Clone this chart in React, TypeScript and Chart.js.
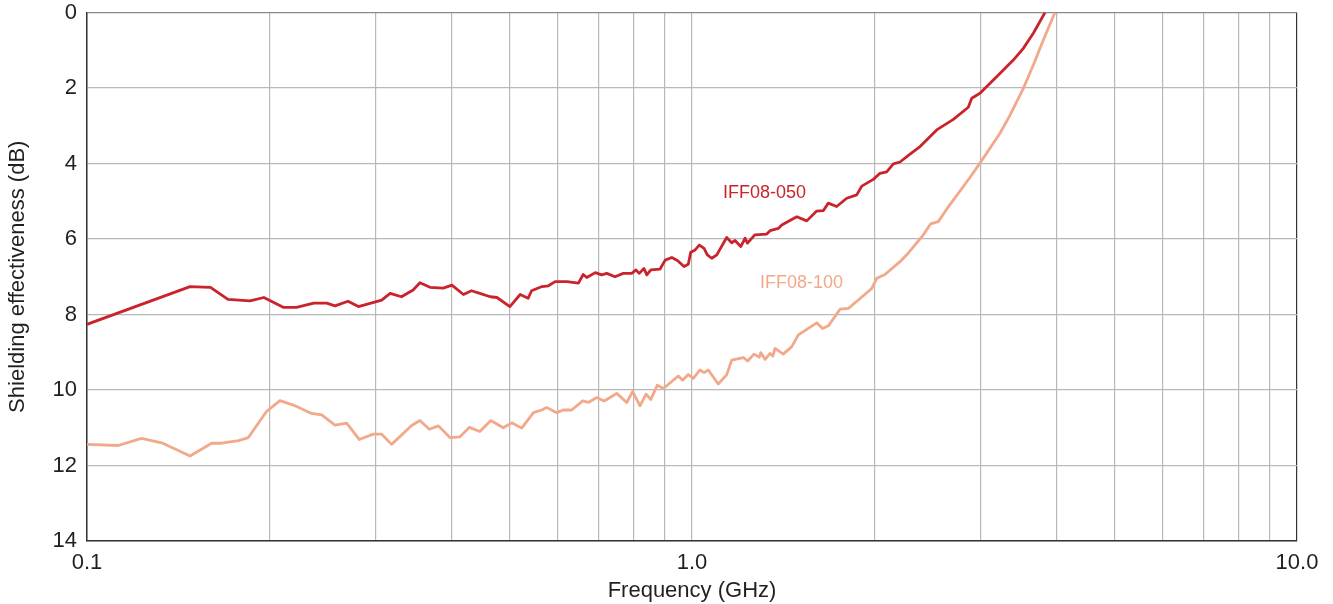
import { useEffect, useRef } from "react";
import { Chart, registerables } from "chart.js";

Chart.register(...registerables);

// ─── data (frequency in GHz, shielding in dB) ───

const FREQ_050 = [
  0.1, 0.148, 0.16, 0.171, 0.186, 0.196, 0.211, 0.222, 0.237, 0.249,
  0.257, 0.27, 0.281, 0.307, 0.317, 0.331, 0.346, 0.355, 0.369, 0.388,
  0.401, 0.419, 0.432, 0.446, 0.464, 0.476, 0.5, 0.52, 0.536, 0.543,
  0.565, 0.579, 0.594, 0.621, 0.649, 0.661, 0.67, 0.692, 0.709, 0.723,
  0.746, 0.77, 0.795, 0.808, 0.818, 0.833, 0.842, 0.855, 0.885, 0.903,
  0.926, 0.946, 0.97, 0.986, 0.995, 1.012, 1.028, 1.047, 1.06, 1.078,
  1.099, 1.141, 1.163, 1.178, 1.204, 1.224, 1.235, 1.27, 1.329, 1.346,
  1.389, 1.407, 1.49, 1.548, 1.607, 1.648, 1.68, 1.734, 1.802, 1.872,
  1.908, 1.994, 2.045, 2.098, 2.152, 2.207, 2.293, 2.382, 2.538, 2.704,
  2.862, 2.9, 2.992, 3.188, 3.397, 3.529, 3.666, 3.832,
];
const SE_050 = [
  8.26, 7.26, 7.28, 7.6, 7.64, 7.55, 7.81, 7.81, 7.7, 7.7,
  7.77, 7.65, 7.79, 7.62, 7.44, 7.53, 7.35, 7.16, 7.28, 7.3,
  7.22, 7.47, 7.37, 7.44, 7.53, 7.55, 7.79, 7.47, 7.57, 7.37,
  7.26, 7.24, 7.13, 7.13, 7.17, 6.94, 7.02, 6.89, 6.95, 6.91,
  7.0, 6.91, 6.91, 6.82, 6.91, 6.78, 6.95, 6.82, 6.8, 6.56,
  6.49, 6.57, 6.73, 6.67, 6.35, 6.29, 6.16, 6.25, 6.42, 6.51,
  6.42, 5.96, 6.1, 6.04, 6.2, 5.98, 6.11, 5.89, 5.87, 5.78,
  5.72, 5.63, 5.41, 5.52, 5.26, 5.25, 5.05, 5.14, 4.92, 4.83,
  4.6, 4.42, 4.26, 4.22, 4.01, 3.96, 3.75, 3.55, 3.11, 2.83,
  2.51, 2.27, 2.14, 1.7, 1.26, 0.95, 0.55, 0.0,
];

const FREQ_100 = [
  0.1, 0.1126, 0.1231, 0.1329, 0.148, 0.1607, 0.167, 0.178, 0.1848, 0.198,
  0.2084, 0.2193, 0.2351, 0.2443, 0.257, 0.2687, 0.2818, 0.2973, 0.307, 0.3188,
  0.344, 0.355, 0.368, 0.381, 0.398, 0.4135, 0.4285, 0.446, 0.465, 0.4876,
  0.5035, 0.523, 0.5469, 0.5645, 0.575, 0.5974, 0.6126, 0.6325, 0.6597, 0.674,
  0.696, 0.7155, 0.732, 0.751, 0.78, 0.798, 0.8204, 0.8395, 0.855, 0.8765,
  0.8966, 0.9493, 0.965, 0.986, 1.005, 1.031, 1.047, 1.064, 1.105, 1.141,
  1.163, 1.216, 1.236, 1.266, 1.292, 1.299, 1.321, 1.346, 1.36, 1.372,
  1.415, 1.462, 1.499, 1.607, 1.644, 1.68, 1.757, 1.813, 1.982, 2.02,
  2.084, 2.207, 2.264, 2.412, 2.48, 2.553, 2.636, 2.88, 2.992, 3.229,
  3.355, 3.529, 3.666, 3.808, 3.98,
];
const SE_100 = [
  11.44, 11.47, 11.28, 11.4, 11.75, 11.41, 11.41, 11.34, 11.26, 10.57,
  10.28, 10.4, 10.62, 10.66, 10.93, 10.88, 11.31, 11.17, 11.17, 11.44,
  10.94, 10.81, 11.04, 10.95, 11.26, 11.24, 10.99, 11.1, 10.81, 11.0,
  10.87, 11.01, 10.6, 10.53, 10.46, 10.6, 10.53, 10.53, 10.29, 10.33,
  10.2, 10.29, 10.2, 10.09, 10.33, 10.04, 10.42, 10.11, 10.25, 9.87,
  9.96, 9.63, 9.74, 9.59, 9.69, 9.47, 9.54, 9.47, 9.84, 9.6,
  9.21, 9.14, 9.23, 9.05, 9.13, 9.01, 9.19, 9.03, 9.1, 8.9,
  9.05, 8.85, 8.54, 8.22, 8.37, 8.3, 7.86, 7.84, 7.31, 7.04,
  6.94, 6.6, 6.42, 5.89, 5.6, 5.54, 5.21, 4.37, 3.99, 3.2,
  2.72, 2.01, 1.39, 0.73, 0.0,
];

const SERIES_NAMES = ["IFF08-050", "IFF08-100"];
// where the in-plot name labels sit (GHz, dB)
const LABEL_FREQ = [1.125, 1.295];
const LABEL_SE = [4.78, 7.16];

const X_GRID = [0.1, 0.2, 0.3, 0.4, 0.5, 0.6, 0.7, 0.8, 0.9, 1, 2, 3, 4, 5, 6, 7, 8, 9, 10];
const X_LABELS: Record<number, string> = { 0.1: "0.1", 1: "1.0", 10: "10.0" };

const COLORS = {
  red: "#c9232b",
  salmon: "#f2a88a",
  grid: "#b8b8b8",
  axis: "#333333",
  top: "#8a8a8a",
  text: "#231f20",
  font: "'Liberation Sans', Arial, Helvetica, sans-serif",
};

const seriesLabels = {
  id: "seriesLabels",
  afterDatasetsDraw(chart: Chart) {
    const { ctx, scales } = chart;
    ctx.save();
    ctx.font = `18px ${COLORS.font}`;
    ctx.textAlign = "left";
    ctx.textBaseline = "middle";
    SERIES_NAMES.forEach((name, i) => {
      ctx.fillStyle = i === 0 ? COLORS.red : COLORS.salmon;
      ctx.fillText(name, scales.x.getPixelForValue(LABEL_FREQ[i]), scales.y.getPixelForValue(LABEL_SE[i]));
    });
    ctx.restore();
  },
};

export default function App() {
  const canvasRef = useRef<HTMLCanvasElement>(null);

  useEffect(() => {
    document.body.style.margin = "0";
    if (!canvasRef.current) return;

    const chart = new Chart(canvasRef.current, {
      type: "scatter",
      data: {
        datasets: [
          {
            label: SERIES_NAMES[0],
            data: FREQ_050.map((f, i) => ({ x: f, y: SE_050[i] })),
            borderColor: COLORS.red,
            backgroundColor: COLORS.red,
          },
          {
            label: SERIES_NAMES[1],
            data: FREQ_100.map((f, i) => ({ x: f, y: SE_100[i] })),
            borderColor: COLORS.salmon,
            backgroundColor: COLORS.salmon,
          },
        ].map(ds => ({
          ...ds,
          showLine: true,
          borderWidth: 2.8,
          pointRadius: 0,
          tension: 0,
          borderJoinStyle: "round" as const,
        })),
      },
      options: {
        responsive: true,
        maintainAspectRatio: false,
        animation: false,
        layout: { padding: { left: 0, top: 0, right: 36, bottom: 0 } },
        plugins: {
          legend: { display: false },
          tooltip: { enabled: false },
        },
        scales: {
          x: {
            type: "logarithmic",
            min: 0.1,
            max: 10,
            afterBuildTicks: (scale) => {
              scale.ticks = X_GRID.map(v => ({ value: v }));
            },
            afterFit: (scale) => {
              scale.height = 63;
            },
            grid: {
              drawTicks: false,
              lineWidth: 1.2,
              color: (c) => (c.tick && c.tick.value === 10 ? COLORS.axis : COLORS.grid),
            },
            border: { color: COLORS.axis, width: 1.5 },
            ticks: {
              autoSkip: false,
              maxRotation: 0,
              padding: 9,
              color: COLORS.text,
              font: { family: COLORS.font, size: 22 },
              callback: (v) => X_LABELS[Number(v)] ?? "",
            },
            title: {
              display: true,
              text: "Frequency (GHz)",
              color: COLORS.text,
              font: { family: COLORS.font, size: 22 },
              padding: { top: 0, bottom: 0 },
            },
          },
          y: {
            type: "linear",
            reverse: true,
            min: 0,
            max: 14,
            afterFit: (scale) => {
              scale.width = 87;
              scale.paddingTop = 12.5;
            },
            grid: {
              drawTicks: false,
              lineWidth: 1.2,
              color: (c) => (c.tick && c.tick.value === 0 ? COLORS.top : COLORS.grid),
            },
            border: { color: COLORS.axis, width: 1.5 },
            ticks: {
              stepSize: 2,
              padding: 10,
              color: COLORS.text,
              font: { family: COLORS.font, size: 22 },
            },
            title: {
              display: true,
              text: "Shielding effectiveness (dB)",
              color: COLORS.text,
              font: { family: COLORS.font, size: 22 },
              padding: { top: 5, bottom: 0 },
            },
          },
        },
      },
      plugins: [seriesLabels],
    });

    return () => chart.destroy();
  }, []);

  return (
    <div style={{ position: "absolute", left: 0, top: 0, width: 1333, height: 604, background: "#fff" }}>
      <canvas ref={canvasRef} />
    </div>
  );
}
